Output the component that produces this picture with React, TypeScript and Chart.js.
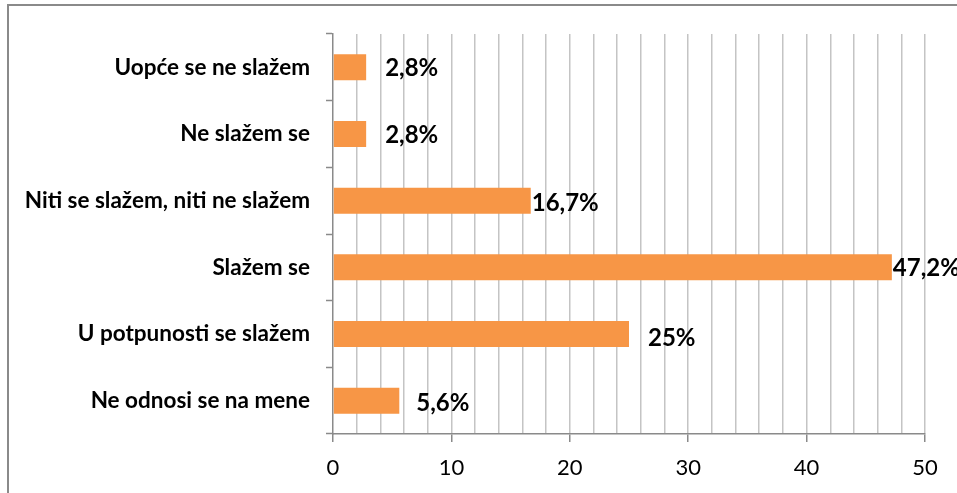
import React, { useEffect, useRef } from "react";
import { Chart, registerables } from "chart.js";

Chart.register(...registerables);

const categories = [
  "Uopće se ne slažem",
  "Ne slažem se",
  "Niti se slažem, niti ne slažem",
  "Slažem se",
  "U potpunosti se slažem",
  "Ne odnosi se na mene",
];
const values = [2.8, 2.8, 16.7, 47.2, 25, 5.6];
const valueLabels = ["2,8%", "2,8%", "16,7%", "47,2%", "25%", "5,6%"];
const axisMin = 0;
const axisMax = 50;
const gridStep = 2;
const labelStep = 10;

// style: horizontal gap between bar end and its label (px)
const labelGaps = [19, 19, 1, 1, 19, 17];
const labelDy = [1, 1, 3, 1, 4, 3];

const FONT = "Lato, 'Open Sans', sans-serif";

const framePlugin = {
  id: "frame",
  beforeDraw(chart: any) {
    const ctx = chart.ctx;
    ctx.save();
    ctx.strokeStyle = "#8a8a8a";
    ctx.lineWidth = 2;
    ctx.beginPath();
    ctx.moveTo(8, chart.height + 2);
    ctx.lineTo(8, 5);
    ctx.lineTo(chart.width + 2, 5);
    ctx.stroke();
    ctx.restore();
  },
};

const valueLabelPlugin = {
  id: "valueLabels",
  afterDatasetsDraw(chart: any) {
    const ctx = chart.ctx;
    const meta = chart.getDatasetMeta(0);
    ctx.save();
    ctx.font = `bold 24px ${FONT}`;
    ctx.fillStyle = "#000";
    ctx.textAlign = "left";
    ctx.textBaseline = "middle";
    meta.data.forEach((el: any, i: number) => {
      ctx.fillText(valueLabels[i], el.x + labelGaps[i], el.y + labelDy[i]);
    });
    ctx.restore();
  },
};

export default function App() {
  const ref = useRef<HTMLCanvasElement>(null);
  useEffect(() => {
    if (!ref.current) return;
    const chart = new Chart(ref.current, {
      type: "bar",
      data: {
        labels: categories,
        datasets: [
          {
            data: values,
            backgroundColor: "#f79646",
            borderWidth: 0,
            barPercentage: 0.39,
            categoryPercentage: 1,
          },
        ],
      },
      options: {
        indexAxis: "y",
        animation: false,
        responsive: false,
        maintainAspectRatio: false,
        layout: { padding: { top: 34, right: 32, left: 0, bottom: 0 } },
        plugins: {
          legend: { display: false },
          tooltip: { enabled: false },
        },
        scales: {
          x: {
            min: axisMin,
            max: axisMax,
            afterFit(scale: any) {
              scale.height = 59;
            },
            ticks: {
              stepSize: gridStep,
              autoSkip: false,
              maxRotation: 0,
              padding: 13,
              color: "#000",
              font: { family: FONT, size: 22 },
              callback: (v: any) => (Number(v) % labelStep === 0 ? String(v) : ""),
            },
            grid: {
              color: (c: any) => (c.tick && c.tick.value === 0 ? "rgba(0,0,0,0)" : "#c4c4c4"),
              lineWidth: 1.5,
              drawTicks: true,
              tickLength: 8,
              tickColor: (c: any) =>
                c.tick && c.tick.value % labelStep === 0 ? "#8a8a8a" : "rgba(0,0,0,0)",
              tickWidth: 1.5,
            },
            border: { color: "#8a8a8a", width: 1.5 },
          },
          y: {
            afterFit(scale: any) {
              scale.width = 333;
            },
            ticks: {
              padding: 16,
              color: "#000",
              font: { family: FONT, size: 22.5, weight: "bold" },
            },
            grid: {
              drawOnChartArea: false,
              drawTicks: true,
              tickLength: 7,
              tickColor: "#8a8a8a",
              tickWidth: 1.5,
            },
            border: { color: "#8a8a8a", width: 1.5 },
          },
        },
      },
      plugins: [framePlugin, valueLabelPlugin],
    } as any);
    return () => chart.destroy();
  }, []);
  return (
    <div style={{ position: "fixed", left: 0, top: 0, width: 957, height: 493, background: "#fff" }}>
      <canvas ref={ref} width={957} height={493} style={{ display: "block" }} />
    </div>
  );
}
